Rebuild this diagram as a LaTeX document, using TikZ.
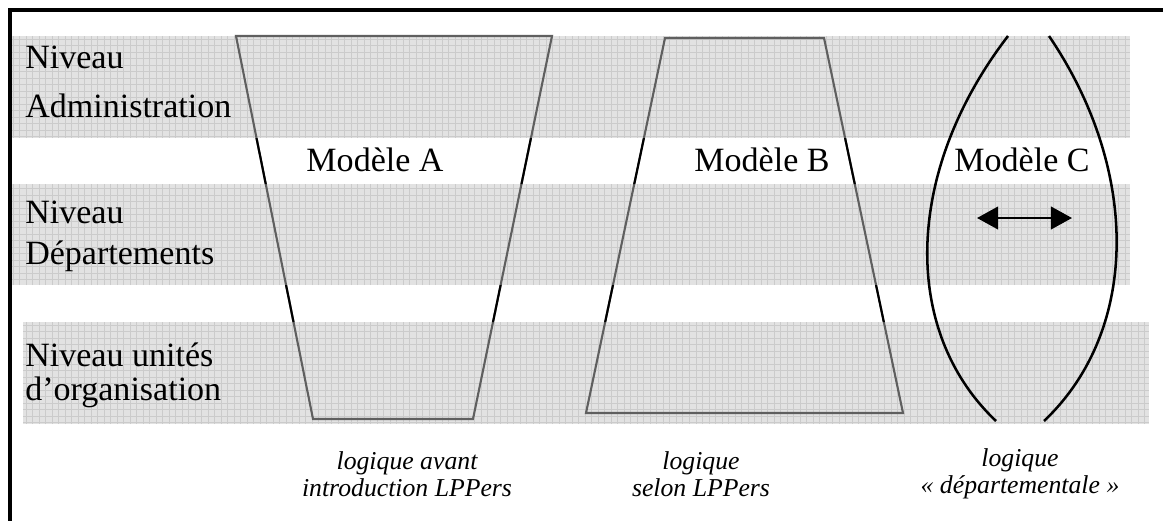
\documentclass[tikz,border=0pt]{standalone}
\usepackage{fontspec}
\setmainfont{Liberation Serif}
\usetikzlibrary{arrows.meta}
\definecolor{bandfill}{RGB}{226,226,226}
\definecolor{bandgrid}{RGB}{203,203,203}
\definecolor{edgegray}{RGB}{95,95,95}

\begin{document}
\begin{tikzpicture}[x=0.025cm, y=-0.025cm,
    band/.style={fill=bandfill},
    bandlines/.style={draw=bandgrid, line width=0.3pt, step=0.1625cm},
    trap/.style={line width=1.5pt},
    lens/.style={line width=1.8pt},
    lvltext/.style={anchor=base west, inner sep=0pt, font=\fontsize{24.2}{29}\selectfont},
    modeltext/.style={anchor=base, inner sep=0pt, font=\fontsize{24.2}{29}\selectfont},
    logic/.style={align=center, inner sep=0pt, font=\fontsize{18.3}{19.6}\selectfont\itshape}]
    \useasboundingbox (0,0) rectangle (1163,520);

    % Frame
    \draw[line width=2.2pt] (10,10) rectangle (1190,545);

    % Level bands
    \fill[band] (12,36) rectangle (1130,138);
    \fill[band] (12,184) rectangle (1130,285);
    \fill[band] (23,322) rectangle (1149,424);
    \draw[bandlines] (12,36) grid (1130,138);
    \draw[bandlines] (12,184) grid (1130,285);
    \draw[bandlines] (23,322) grid (1149,424);

    % Models A and B, grey inside the bands
    \draw[trap, edgegray] (236,36) -- (552,36) -- (473,419) -- (313,419) -- cycle;
    \draw[trap, edgegray] (665,38) -- (824,38) -- (903,413) -- (586,413) -- cycle;

    % ... and black in the white gaps
    \begin{scope}
        \clip (0,138) rectangle (1163,184) (0,285) rectangle (1163,322);
        \draw[trap] (236,36) -- (552,36) -- (473,419) -- (313,419) -- cycle;
        \draw[trap] (665,38) -- (824,38) -- (903,413) -- (586,413) -- cycle;
    \end{scope}

    % Model C
    \coordinate (cTopL) at (1008,36);
    \coordinate (cBotL) at (996,421);
    \coordinate (cTopR) at (1049,36);
    \coordinate (cBotR) at (1044,421);
    \draw[lens] (cTopL) .. controls (905,170) and (900,330) .. (cBotL);
    \draw[lens] (cTopR) .. controls (1140,170) and (1140,330) .. (cBotR);
    \coordinate (swingL) at (977,218);
    \coordinate (swingR) at (1072,218);
    \draw[lens, {Triangle[length=15pt,width=16pt]}-{Triangle[length=15pt,width=16pt]}] (swingL) -- (swingR);

    % Level names
    \node[lvltext] (admA) at (25,68) {Niveau};
    \node[lvltext] (admB) at (25,117) {Administration};
    \node[lvltext] (depA) at (25,223) {Niveau};
    \node[lvltext] (depB) at (25,264) {Départements};
    \node[lvltext] (orgA) at (25,366) {Niveau unités};
    \node[lvltext] (orgB) at (25,400) {d’organisation};

    % Model names
    \node[modeltext] (modA) at (375,171) {Modèle A};
    \node[modeltext] (modB) at (762,171) {Modèle B};
    \node[modeltext] (modC) at (1022,171) {Modèle C};

    % Logics
    \node[logic] (logA) at (407,474) {logique avant\\introduction LPPers};
    \node[logic] (logB) at (701,474) {logique\\selon LPPers};
    \node[logic] (logC) at (1020,474) {logique\\« départementale »};
\end{tikzpicture}
\end{document}
